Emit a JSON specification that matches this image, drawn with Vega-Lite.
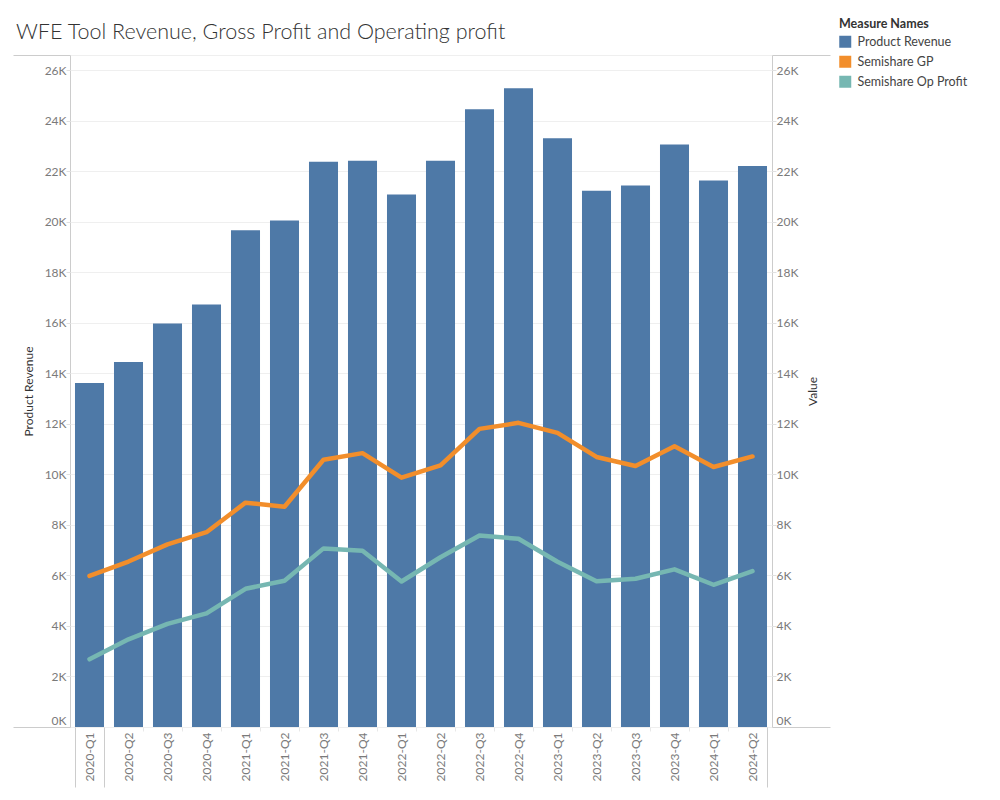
{
  "$schema": "https://vega.github.io/schema/vega-lite/v6.json",
  "autosize": {"type": "none"},
  "width": 702,
  "height": 672,
  "padding": {"left": 70, "top": 55, "right": 228, "bottom": 73},
  "background": "white",
  "config": {
    "font": "Lato",
    "view": {"stroke": "#cccccc", "strokeWidth": 1}
  },
  "title": {
    "text": "WFE Tool Revenue, Gross Profit and Operating profit",
    "anchor": "start",
    "frame": "group",
    "dx": -54,
    "dy": 56,
    "offset": 14,
    "baseline": "alphabetic",
    "font": "Lato",
    "fontSize": 21.5,
    "fontWeight": 300,
    "color": "#333333"
  },
  "data": {
    "values": [
      {"quarter": "2020-Q1", "measure": "Product Revenue", "value": 13620},
      {"quarter": "2020-Q2", "measure": "Product Revenue", "value": 14450},
      {"quarter": "2020-Q3", "measure": "Product Revenue", "value": 15970},
      {"quarter": "2020-Q4", "measure": "Product Revenue", "value": 16720},
      {"quarter": "2021-Q1", "measure": "Product Revenue", "value": 19660},
      {"quarter": "2021-Q2", "measure": "Product Revenue", "value": 20050},
      {"quarter": "2021-Q3", "measure": "Product Revenue", "value": 22370},
      {"quarter": "2021-Q4", "measure": "Product Revenue", "value": 22410},
      {"quarter": "2022-Q1", "measure": "Product Revenue", "value": 21080},
      {"quarter": "2022-Q2", "measure": "Product Revenue", "value": 22410},
      {"quarter": "2022-Q3", "measure": "Product Revenue", "value": 24450},
      {"quarter": "2022-Q4", "measure": "Product Revenue", "value": 25280},
      {"quarter": "2023-Q1", "measure": "Product Revenue", "value": 23300},
      {"quarter": "2023-Q2", "measure": "Product Revenue", "value": 21230},
      {"quarter": "2023-Q3", "measure": "Product Revenue", "value": 21430},
      {"quarter": "2023-Q4", "measure": "Product Revenue", "value": 23060},
      {"quarter": "2024-Q1", "measure": "Product Revenue", "value": 21630},
      {"quarter": "2024-Q2", "measure": "Product Revenue", "value": 22210},
      {"quarter": "2020-Q1", "measure": "Semishare GP", "value": 5980},
      {"quarter": "2020-Q2", "measure": "Semishare GP", "value": 6550},
      {"quarter": "2020-Q3", "measure": "Semishare GP", "value": 7230},
      {"quarter": "2020-Q4", "measure": "Semishare GP", "value": 7710},
      {"quarter": "2021-Q1", "measure": "Semishare GP", "value": 8880},
      {"quarter": "2021-Q2", "measure": "Semishare GP", "value": 8720},
      {"quarter": "2021-Q3", "measure": "Semishare GP", "value": 10580},
      {"quarter": "2021-Q4", "measure": "Semishare GP", "value": 10840},
      {"quarter": "2022-Q1", "measure": "Semishare GP", "value": 9870},
      {"quarter": "2022-Q2", "measure": "Semishare GP", "value": 10360},
      {"quarter": "2022-Q3", "measure": "Semishare GP", "value": 11800},
      {"quarter": "2022-Q4", "measure": "Semishare GP", "value": 12040},
      {"quarter": "2023-Q1", "measure": "Semishare GP", "value": 11640},
      {"quarter": "2023-Q2", "measure": "Semishare GP", "value": 10690},
      {"quarter": "2023-Q3", "measure": "Semishare GP", "value": 10330},
      {"quarter": "2023-Q4", "measure": "Semishare GP", "value": 11110},
      {"quarter": "2024-Q1", "measure": "Semishare GP", "value": 10290},
      {"quarter": "2024-Q2", "measure": "Semishare GP", "value": 10710},
      {"quarter": "2020-Q1", "measure": "Semishare Op Profit", "value": 2680},
      {"quarter": "2020-Q2", "measure": "Semishare Op Profit", "value": 3470},
      {"quarter": "2020-Q3", "measure": "Semishare Op Profit", "value": 4080},
      {"quarter": "2020-Q4", "measure": "Semishare Op Profit", "value": 4500},
      {"quarter": "2021-Q1", "measure": "Semishare Op Profit", "value": 5470},
      {"quarter": "2021-Q2", "measure": "Semishare Op Profit", "value": 5790},
      {"quarter": "2021-Q3", "measure": "Semishare Op Profit", "value": 7070},
      {"quarter": "2021-Q4", "measure": "Semishare Op Profit", "value": 6980},
      {"quarter": "2022-Q1", "measure": "Semishare Op Profit", "value": 5760},
      {"quarter": "2022-Q2", "measure": "Semishare Op Profit", "value": 6720},
      {"quarter": "2022-Q3", "measure": "Semishare Op Profit", "value": 7580},
      {"quarter": "2022-Q4", "measure": "Semishare Op Profit", "value": 7450},
      {"quarter": "2023-Q1", "measure": "Semishare Op Profit", "value": 6540},
      {"quarter": "2023-Q2", "measure": "Semishare Op Profit", "value": 5770},
      {"quarter": "2023-Q3", "measure": "Semishare Op Profit", "value": 5870},
      {"quarter": "2023-Q4", "measure": "Semishare Op Profit", "value": 6240},
      {"quarter": "2024-Q1", "measure": "Semishare Op Profit", "value": 5630},
      {"quarter": "2024-Q2", "measure": "Semishare Op Profit", "value": 6170}
    ]
  },
  "encoding": {
    "color": {
      "field": "measure",
      "type": "nominal",
      "scale": {
        "domain": ["Product Revenue", "Semishare GP", "Semishare Op Profit"],
        "range": ["#4e79a7", "#f28e2b", "#76b7b2"]
      },
      "legend": {
        "orient": "none",
        "legendX": 769,
        "legendY": -37,
        "padding": 0,
        "title": "Measure Names",
        "titleFont": "Lato",
        "titleFontSize": 12.5,
        "titleFontWeight": "bold",
        "titleColor": "#333333",
        "titlePadding": 5,
        "labelFont": "Lato",
        "labelFontSize": 12.5,
        "labelColor": "#444444",
        "labelOffset": 6,
        "symbolType": "square",
        "symbolSize": 144,
        "symbolStrokeWidth": 0,
        "symbolOpacity": 1,
        "rowPadding": 7
      }
    }
  },
  "layer": [
    {
      "transform": [{"filter": "datum.measure == 'Product Revenue'"}],
      "mark": {"type": "bar", "opacity": 1},
      "encoding": {
        "x": {
          "field": "quarter",
          "type": "ordinal",
          "sort": null,
          "scale": {"paddingInner": 0.256, "paddingOuter": 0.128},
          "axis": {
            "orient": "bottom",
            "title": null,
            "labelAngle": 270,
            "labelAlign": "right",
            "labelBaseline": "middle",
            "labelFont": "Lato",
            "labelFontSize": 12,
            "labelColor": "#7a7a7a",
            "labelPadding": -55,
            "tickBand": "extent",
            "tickSize": 60,
            "tickColor": {"condition": {"test": "datum.index <= 0", "value": "#cccccc"}, "value": "#e8e8e8"},
            "tickDash": {"condition": {"test": "datum.index <= 0", "value": []}, "value": [4, 200]},
            "domain": false,
            "grid": false
          }
        },
        "y": {
          "field": "value",
          "type": "quantitative",
          "title": "Product Revenue",
          "scale": {"domain": [0, 26600], "nice": false, "zero": true},
          "axis": {
            "orient": "left",
            "values": [0, 2000, 4000, 6000, 8000, 10000, 12000, 14000, 16000, 18000, 20000, 22000, 24000, 26000, 26600],
            "labelExpr": "datum.value > 26000 ? '' : (datum.value / 1000) + 'K'",
            "labelFont": "Lato",
            "labelFontSize": 12,
            "labelColor": "#7a7a7a",
            "labelPadding": -53,
            "labelBaseline": {"condition": {"test": "datum.value == 0", "value": "bottom"}, "value": "middle"},
            "tickSize": 57,
            "tickColor": {"condition": {"test": "datum.value == 0 || datum.value == 26600", "value": "#cccccc"}, "value": "#e0e0e0"},
            "tickDash": {"condition": {"test": "datum.value == 0 || datum.value == 26600", "value": []}, "value": [4, 200]},
            "grid": true,
            "gridColor": "#efefef",
            "domain": false,
            "titleFont": "Lato",
            "titleFontSize": 12,
            "titleFontWeight": "normal",
            "titleColor": "#333333",
            "titleAngle": 270,
            "titleAlign": "center",
            "titleBaseline": "middle",
            "titleX": -42,
            "titleY": 336
          }
        }
      }
    },
    {
      "transform": [{"filter": "datum.measure != 'Product Revenue'"}],
      "mark": {"type": "line", "strokeWidth": 4.5, "strokeCap": "round", "strokeJoin": "round"},
      "encoding": {
        "x": {
          "field": "quarter",
          "type": "ordinal",
          "sort": null,
          "axis": {
            "orient": "bottom",
            "title": null,
            "labels": false,
            "bandPosition": 1,
            "tickSize": 60,
            "tickColor": {"condition": {"test": "datum.index >= 1", "value": "#cccccc"}, "value": "rgba(0,0,0,0)"},
            "domain": false,
            "grid": false
          }
        },
        "y": {
          "field": "value",
          "type": "quantitative",
          "title": "Value",
          "scale": {"domain": [0, 26600], "nice": false, "zero": true},
          "axis": {
            "orient": "right",
            "values": [0, 2000, 4000, 6000, 8000, 10000, 12000, 14000, 16000, 18000, 20000, 22000, 24000, 26000, 26600],
            "labelExpr": "datum.value > 26000 ? '' : (datum.value / 1000) + 'K'",
            "labelFont": "Lato",
            "labelFontSize": 12,
            "labelColor": "#7a7a7a",
            "labelPadding": -54,
            "labelBaseline": {"condition": {"test": "datum.value == 0", "value": "bottom"}, "value": "middle"},
            "tickSize": 58,
            "tickColor": {"condition": {"test": "datum.value == 0 || datum.value == 26600", "value": "#cccccc"}, "value": "#e0e0e0"},
            "tickDash": {"condition": {"test": "datum.value == 0 || datum.value == 26600", "value": []}, "value": [4, 200]},
            "grid": false,
            "domain": false,
            "titleFont": "Lato",
            "titleFontSize": 12,
            "titleFontWeight": "normal",
            "titleColor": "#333333",
            "titleAngle": 270,
            "titleAlign": "center",
            "titleBaseline": "middle",
            "titleX": 40,
            "titleY": 336
          }
        }
      }
    }
  ],
  "resolve": {"scale": {"y": "independent"}, "axis": {"x": "independent"}}
}
